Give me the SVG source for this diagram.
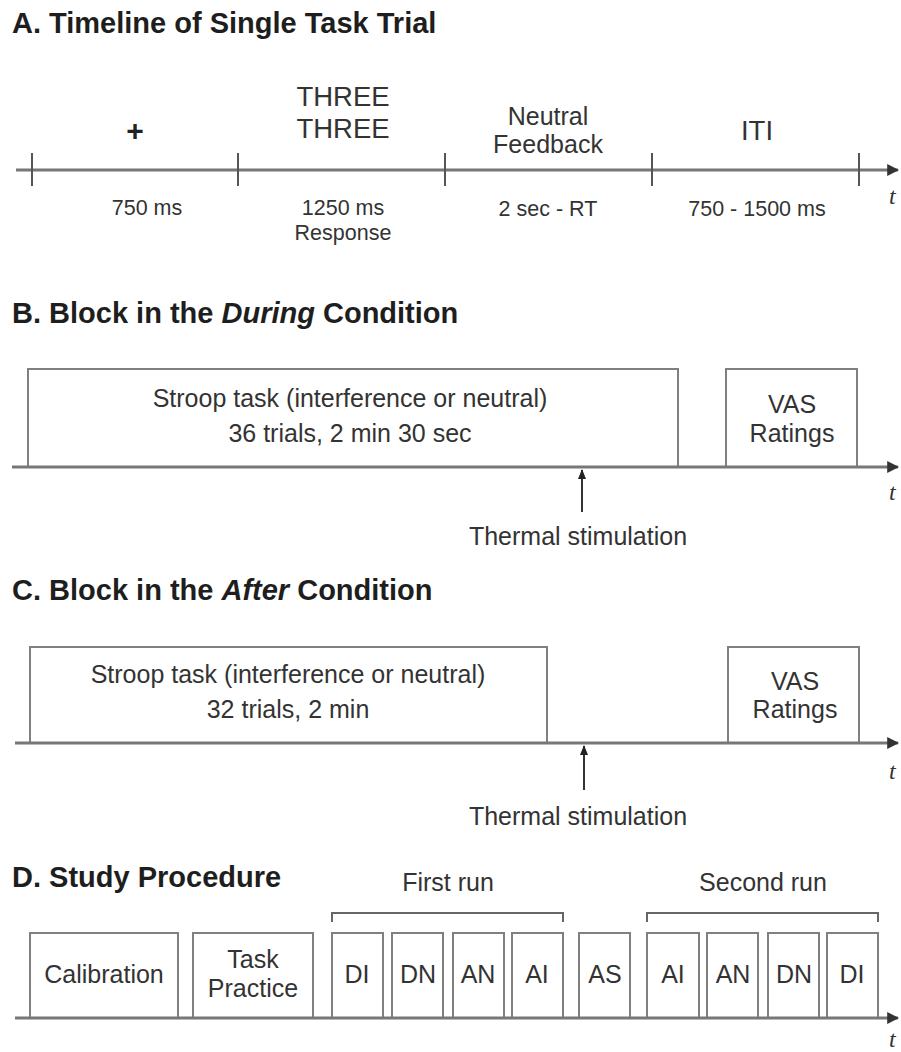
<svg xmlns="http://www.w3.org/2000/svg" width="901" height="1052" viewBox="0 0 901 1052">
<style>
.title{font-family:"Liberation Sans",Arial,sans-serif;font-size:29px;font-weight:bold;fill:#1e1e1e}
.lbl{font-family:"Liberation Sans",Arial,sans-serif;font-size:25px;fill:#333;text-anchor:middle}
.sm{font-family:"Liberation Sans",Arial,sans-serif;font-size:21.5px;fill:#333;text-anchor:middle}
.big{font-family:"Liberation Sans",Arial,sans-serif;font-size:27.5px;fill:#333;text-anchor:middle}
.t{font-family:"Liberation Serif","Times New Roman",serif;font-style:italic;font-size:24px;fill:#333}
.axis{stroke:#777;stroke-width:3;fill:none}
.tick{stroke:#555;stroke-width:2}
.box{fill:#fff;stroke:#808080;stroke-width:2}
.brk{stroke:#666;stroke-width:2;fill:none}
.stim{stroke:#333;stroke-width:2}
</style>
<defs>
<marker id="ah" viewBox="0 0 10 10" refX="9" refY="5" markerWidth="4" markerHeight="4" orient="auto"><path d="M0,0 L10,5 L0,10 z" fill="#333"/></marker>
<marker id="up" viewBox="0 0 10 10" refX="9" refY="5" markerWidth="5" markerHeight="5" orient="auto"><path d="M0,1 L10,5 L0,9 z" fill="#222"/></marker>
</defs>

<!-- Panel A -->
<g id="panelA">
<text class="title" x="12" y="33">A. Timeline of Single Task Trial</text>
<g id="A-connectors">
<line class="axis" x1="16" y1="170" x2="898" y2="170" marker-end="url(#ah)"/>
<line class="tick" x1="32" y1="153" x2="32" y2="186"/>
<line class="tick" x1="238" y1="153" x2="238" y2="186"/>
<line class="tick" x1="445" y1="153" x2="445" y2="186"/>
<line class="tick" x1="652" y1="153" x2="652" y2="186"/>
<line class="tick" x1="859" y1="153" x2="859" y2="186"/>
</g>
<g id="A-fixation"><text x="135" y="141" style="font-family:'Liberation Sans',Arial,sans-serif;font-size:30px;font-weight:bold;fill:#222;text-anchor:middle">+</text><text class="sm" x="147" y="215">750 ms</text></g>
<g id="A-stimulus"><text class="big" x="343" y="106">THREE</text><text class="big" x="343" y="138">THREE</text><text class="sm" x="343" y="215">1250 ms</text><text class="sm" x="343" y="240">Response</text></g>
<g id="A-feedback"><text class="lbl" x="548" y="125">Neutral</text><text class="lbl" x="548" y="153">Feedback</text><text class="sm" x="548" y="216">2 sec - RT</text></g>
<g id="A-iti"><text class="big" x="757" y="140">ITI</text><text class="sm" x="757" y="216">750 - 1500 ms</text></g>
<text class="t" x="889" y="204">t</text>
</g>

<!-- Panel B -->
<g id="panelB">
<text class="title" x="12" y="323">B. Block in the <tspan font-style="italic">During</tspan> Condition</text>
<g id="B-stroop"><rect class="box" x="28" y="369" width="650" height="98"/><text class="lbl" x="350" y="407">Stroop task (interference or neutral)</text><text class="lbl" x="350" y="442">36 trials, 2 min 30 sec</text></g>
<g id="B-vas"><rect class="box" x="726" y="369" width="131" height="98"/><text class="lbl" x="792" y="413">VAS</text><text class="lbl" x="792" y="442">Ratings</text></g>
<g id="B-connectors">
<line class="axis" x1="12" y1="467" x2="898" y2="467" marker-end="url(#ah)"/>
<line class="stim" x1="582" y1="512" x2="582" y2="470" marker-end="url(#up)"/>
</g>
<text class="lbl" x="578" y="545">Thermal stimulation</text>
<text class="t" x="889" y="500">t</text>
</g>

<!-- Panel C -->
<g id="panelC">
<text class="title" x="12" y="600">C. Block in the <tspan font-style="italic">After</tspan> Condition</text>
<g id="C-stroop"><rect class="box" x="30" y="647" width="517" height="96"/><text class="lbl" x="288" y="683">Stroop task (interference or neutral)</text><text class="lbl" x="288" y="718">32 trials, 2 min</text></g>
<g id="C-vas"><rect class="box" x="728" y="647" width="131" height="96"/><text class="lbl" x="795" y="690">VAS</text><text class="lbl" x="795" y="718">Ratings</text></g>
<g id="C-connectors">
<line class="axis" x1="15" y1="743" x2="898" y2="743" marker-end="url(#ah)"/>
<line class="stim" x1="584" y1="790" x2="584" y2="746" marker-end="url(#up)"/>
</g>
<text class="lbl" x="578" y="825">Thermal stimulation</text>
<text class="t" x="889" y="779">t</text>
</g>

<!-- Panel D -->
<g id="panelD">
<text class="title" x="12" y="887">D. Study Procedure</text>
<g id="D-calibration"><rect class="box" x="30" y="933" width="148" height="85"/><text class="lbl" x="104" y="983">Calibration</text></g>
<g id="D-practice"><rect class="box" x="193" y="933" width="120" height="85"/><text class="lbl" x="253" y="968">Task</text><text class="lbl" x="253" y="997">Practice</text></g>
<g id="D-DI1"><rect class="box" x="332" y="933" width="51" height="85"/><text class="lbl" x="357" y="983">DI</text></g>
<g id="D-DN1"><rect class="box" x="392" y="933" width="51" height="85"/><text class="lbl" x="418" y="983">DN</text></g>
<g id="D-AN1"><rect class="box" x="453" y="933" width="51" height="85"/><text class="lbl" x="478" y="983">AN</text></g>
<g id="D-AI1"><rect class="box" x="512" y="933" width="51" height="85"/><text class="lbl" x="537" y="983">AI</text></g>
<g id="D-AS"><rect class="box" x="579" y="933" width="51" height="85"/><text class="lbl" x="605" y="983">AS</text></g>
<g id="D-AI2"><rect class="box" x="647" y="933" width="52" height="85"/><text class="lbl" x="673" y="983">AI</text></g>
<g id="D-AN2"><rect class="box" x="707" y="933" width="51" height="85"/><text class="lbl" x="733" y="983">AN</text></g>
<g id="D-DN2"><rect class="box" x="768" y="933" width="51" height="85"/><text class="lbl" x="794" y="983">DN</text></g>
<g id="D-DI2"><rect class="box" x="827" y="933" width="51" height="85"/><text class="lbl" x="852" y="983">DI</text></g>
<g id="D-connectors">
<line class="axis" x1="15" y1="1018" x2="898" y2="1018" marker-end="url(#ah)"/>
<path class="brk" d="M332,922 V913 H563 V922"/>
<path class="brk" d="M647,922 V913 H878 V922"/>
</g>
<text class="lbl" x="448" y="891">First run</text>
<text class="lbl" x="763" y="891">Second run</text>
<text class="t" x="889" y="1047">t</text>
</g>
</svg>
